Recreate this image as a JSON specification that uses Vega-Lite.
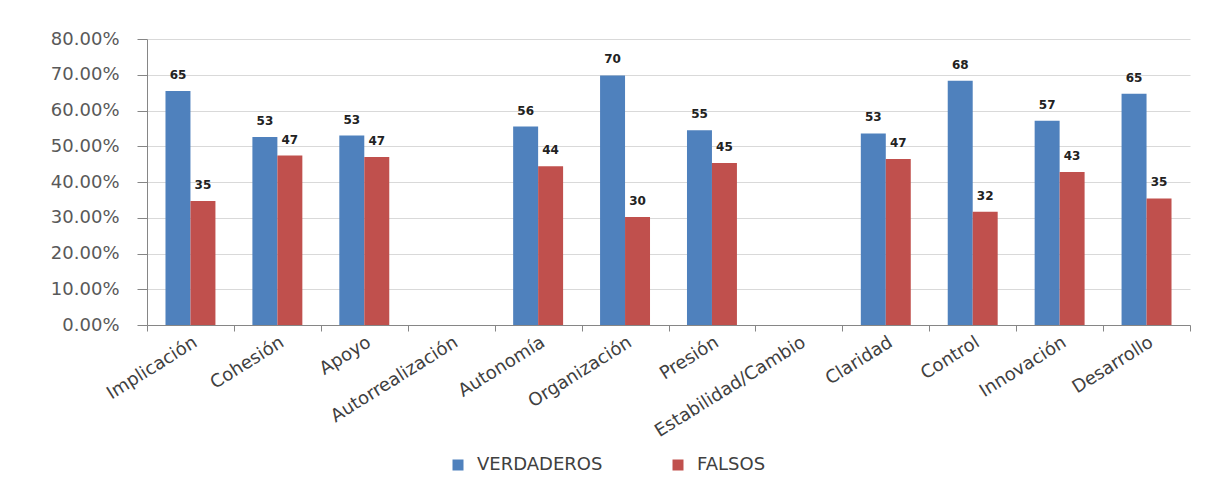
{
  "$schema": "https://vega.github.io/schema/vega-lite/v6.json",
  "width": 1043,
  "height": 286,
  "autosize": {"type": "none"},
  "padding": {"left": 147, "top": 39, "right": 28, "bottom": 160},
  "background": "white",
  "data": {
    "values": [
      {"cat": "Implicación", "serie": "VERDADEROS", "pct": 0.6545, "label": "65"},
      {"cat": "Implicación", "serie": "FALSOS", "pct": 0.347, "label": "35"},
      {"cat": "Cohesión", "serie": "VERDADEROS", "pct": 0.526, "label": "53"},
      {"cat": "Cohesión", "serie": "FALSOS", "pct": 0.474, "label": "47"},
      {"cat": "Apoyo", "serie": "VERDADEROS", "pct": 0.53, "label": "53"},
      {"cat": "Apoyo", "serie": "FALSOS", "pct": 0.47, "label": "47"},
      {"cat": "Autonomía", "serie": "VERDADEROS", "pct": 0.555, "label": "56"},
      {"cat": "Autonomía", "serie": "FALSOS", "pct": 0.444, "label": "44"},
      {"cat": "Organización", "serie": "VERDADEROS", "pct": 0.698, "label": "70"},
      {"cat": "Organización", "serie": "FALSOS", "pct": 0.302, "label": "30"},
      {"cat": "Presión", "serie": "VERDADEROS", "pct": 0.545, "label": "55"},
      {"cat": "Presión", "serie": "FALSOS", "pct": 0.453, "label": "45"},
      {"cat": "Claridad", "serie": "VERDADEROS", "pct": 0.536, "label": "53"},
      {"cat": "Claridad", "serie": "FALSOS", "pct": 0.464, "label": "47"},
      {"cat": "Control", "serie": "VERDADEROS", "pct": 0.683, "label": "68"},
      {"cat": "Control", "serie": "FALSOS", "pct": 0.317, "label": "32"},
      {"cat": "Innovación", "serie": "VERDADEROS", "pct": 0.571, "label": "57"},
      {"cat": "Innovación", "serie": "FALSOS", "pct": 0.428, "label": "43"},
      {"cat": "Desarrollo", "serie": "VERDADEROS", "pct": 0.647, "label": "65"},
      {"cat": "Desarrollo", "serie": "FALSOS", "pct": 0.354, "label": "35"}
    ]
  },
  "encoding": {
    "x": {
      "field": "cat",
      "type": "nominal",
      "sort": null,
      "scale": {
        "domain": ["Implicación", "Cohesión", "Apoyo", "Autorrealización", "Autonomía", "Organización", "Presión", "Estabilidad/Cambio", "Claridad", "Control", "Innovación", "Desarrollo"],
        "paddingInner": 0,
        "paddingOuter": 0
      },
      "axis": {
        "title": null,
        "labelAngle": -32,
        "labelAlign": "right",
        "labelBaseline": "top",
        "labelFont": "DejaVu Sans",
        "labelFontSize": 18,
        "labelColor": "#404040",
        "tickBand": "extent",
        "tickSize": 6,
        "tickColor": "#868686",
        "domainColor": "#868686",
        "grid": false,
        "labelPadding": 2
      }
    },
    "xOffset": {
      "field": "serie",
      "type": "nominal",
      "sort": ["VERDADEROS", "FALSOS"],
      "scale": {"paddingInner": 0, "paddingOuter": 0.74}
    },
    "y": {
      "field": "pct",
      "type": "quantitative",
      "scale": {"domain": [0, 0.8]},
      "axis": {
        "title": null,
        "values": [0, 0.1, 0.2, 0.3, 0.4, 0.5, 0.6, 0.7, 0.8],
        "format": ".2%",
        "labelFont": "DejaVu Sans",
        "labelFontSize": 18,
        "labelColor": "#595959",
        "tickSize": 10,
        "tickColor": "#868686",
        "domainColor": "#868686",
        "gridColor": "#D9D9D9",
        "labelPadding": 18
      }
    }
  },
  "layer": [
    {
      "mark": {"type": "bar"},
      "encoding": {
        "color": {
          "field": "serie",
          "type": "nominal",
          "scale": {"domain": ["VERDADEROS", "FALSOS"], "range": ["#4F81BD", "#C0504D"]},
          "legend": {
            "orient": "none",
            "legendX": 302,
            "legendY": 417,
            "direction": "horizontal",
            "title": null,
            "symbolType": "square",
            "symbolSize": 121,
            "symbolStrokeWidth": 0,
            "labelFont": "DejaVu Sans",
            "labelFontSize": 18,
            "labelColor": "#404040",
            "columnPadding": 66,
            "labelOffset": 10
          }
        }
      }
    },
    {
      "mark": {"type": "text", "baseline": "bottom", "dy": -9, "fontWeight": "bold", "fontSize": 12, "font": "DejaVu Sans", "color": "#222222"},
      "encoding": {"text": {"field": "label", "type": "nominal"}}
    }
  ],
  "config": {"view": {"stroke": null}}
}
